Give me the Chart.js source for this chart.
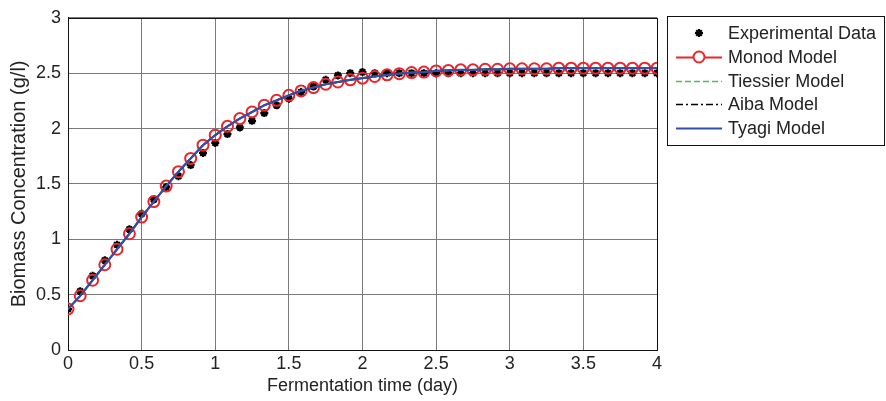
<!DOCTYPE html>
<html>
<head>
<meta charset="utf-8">
<script src="https://cdn.jsdelivr.net/npm/chart.js@4.4.1/dist/chart.umd.min.js"></script>
<style>
html,body{margin:0;padding:0;background:#fff;}
#wrap{width:886px;height:401px;position:relative;}
</style>
</head>
<body>
<div id="wrap"><canvas id="c" width="886" height="401"></canvas></div>
<script>
// ---- data ----
const timeDays = [0, 0.083, 0.167, 0.25, 0.333, 0.417, 0.5, 0.583, 0.667, 0.75, 0.833, 0.917,
  1, 1.083, 1.167, 1.25, 1.333, 1.417, 1.5, 1.583, 1.667, 1.75, 1.833, 1.917,
  2, 2.083, 2.167, 2.25, 2.333, 2.417, 2.5, 2.583, 2.667, 2.75, 2.833, 2.917,
  3, 3.083, 3.167, 3.25, 3.333, 3.417, 3.5, 3.583, 3.667, 3.75, 3.833, 3.917, 4];

const experimental = [0.37, 0.53, 0.67, 0.81, 0.95, 1.09, 1.23, 1.36, 1.47, 1.57, 1.67, 1.78,
  1.87, 1.95, 2.01, 2.07, 2.14, 2.21, 2.27, 2.33, 2.38, 2.44, 2.48, 2.50,
  2.51, 2.50, 2.50, 2.50, 2.50, 2.50, 2.50, 2.50, 2.50, 2.50, 2.50, 2.50,
  2.50, 2.50, 2.50, 2.50, 2.50, 2.50, 2.50, 2.50, 2.50, 2.50, 2.50, 2.50, 2.50];

const monod = [0.37, 0.49, 0.63, 0.77, 0.91, 1.05, 1.20, 1.34, 1.48, 1.61, 1.73, 1.85,
  1.94, 2.02, 2.09, 2.15, 2.21, 2.255, 2.30, 2.34, 2.37, 2.40, 2.42, 2.44,
  2.455, 2.47, 2.485, 2.495, 2.505, 2.51, 2.52, 2.525, 2.53, 2.53, 2.535, 2.535,
  2.54, 2.54, 2.54, 2.54, 2.545, 2.545, 2.545, 2.545, 2.545, 2.545, 2.545, 2.545, 2.545];

const tiessier = [0.37, 0.49, 0.63, 0.77, 0.91, 1.05, 1.20, 1.34, 1.48, 1.61, 1.73, 1.85,
  1.94, 2.02, 2.09, 2.15, 2.21, 2.255, 2.30, 2.34, 2.37, 2.40, 2.42, 2.44,
  2.455, 2.47, 2.485, 2.495, 2.505, 2.51, 2.52, 2.525, 2.53, 2.53, 2.535, 2.535,
  2.54, 2.54, 2.54, 2.54, 2.545, 2.545, 2.545, 2.545, 2.545, 2.545, 2.545, 2.545, 2.545];

const aiba = [0.37, 0.49, 0.63, 0.77, 0.91, 1.05, 1.20, 1.34, 1.48, 1.61, 1.73, 1.85,
  1.94, 2.02, 2.09, 2.15, 2.21, 2.255, 2.30, 2.34, 2.37, 2.40, 2.42, 2.44,
  2.455, 2.47, 2.485, 2.495, 2.505, 2.51, 2.52, 2.525, 2.53, 2.53, 2.535, 2.535,
  2.54, 2.54, 2.54, 2.54, 2.545, 2.545, 2.545, 2.545, 2.545, 2.545, 2.545, 2.545, 2.545];

const tyagi = [0.37, 0.49, 0.63, 0.77, 0.91, 1.05, 1.20, 1.34, 1.48, 1.61, 1.73, 1.85,
  1.94, 2.02, 2.09, 2.15, 2.21, 2.255, 2.30, 2.34, 2.37, 2.40, 2.42, 2.44,
  2.455, 2.47, 2.485, 2.495, 2.505, 2.51, 2.52, 2.525, 2.53, 2.53, 2.535, 2.535,
  2.54, 2.54, 2.54, 2.54, 2.545, 2.545, 2.545, 2.545, 2.545, 2.545, 2.545, 2.545, 2.545];

const seriesNames = ['Experimental Data', 'Monod Model', 'Tiessier Model', 'Aiba Model', 'Tyagi Model'];
const xTitle = 'Fermentation time (day)';
const yTitle = 'Biomass Concentration (g/l)';

// ---- styles ----
const FONT = "'Liberation Sans', Arial, Helvetica, sans-serif";
const TXT = '#222222';
const RED = '#e8262b';
const GREEN = '#4fbf4a';
const BLUE = '#2f4fa8';

function pts(vals){ return timeDays.map((t,i)=>({x:t, y:vals[i]})); }
function fmt(v){ return String(Number(Number(v).toFixed(2))); }

const legendStyles = [
  {color:'#000', dash:[], line:false, marker:'star'},
  {color:RED, dash:[], line:true, marker:'circle', width:1.8},
  {color:GREEN, dash:[6,3], line:true, marker:null, width:1.6},
  {color:'#000', dash:[7,3,2,3], line:true, marker:null, width:1.6},
  {color:BLUE, dash:[], line:true, marker:null, width:2.2}
];

const frameAndLegend = {
  id:'frameAndLegend',
  beforeDatasetsDraw(chart){
    const a = chart.chartArea, ctx = chart.ctx;
    ctx.save();
    ctx.strokeStyle = '#111';
    ctx.lineWidth = 1;
    ctx.strokeRect(Math.round(a.left)+0.5, Math.round(a.top)+0.5, Math.round(a.right-a.left), Math.round(a.bottom-a.top));
    ctx.restore();
  },
  afterDraw(chart){
    const ctx = chart.ctx;
    const bx = 667, by = 16, bw = 217, bh = 129;
    ctx.save();
    ctx.fillStyle = '#fff';
    ctx.fillRect(bx, by, bw, bh);
    ctx.strokeStyle = '#111';
    ctx.lineWidth = 1;
    ctx.strokeRect(bx+0.5, by+0.5, bw, bh);
    const rows = [33, 57, 81, 104, 128];
    ctx.font = '18px ' + FONT;
    ctx.textBaseline = 'middle';
    ctx.textAlign = 'left';
    seriesNames.forEach((name, i) => {
      const s = legendStyles[i], y = rows[i];
      if (s.line) {
        ctx.beginPath();
        ctx.setLineDash(s.dash);
        ctx.strokeStyle = s.color;
        ctx.lineWidth = s.width;
        ctx.moveTo(676, y + 0.5);
        ctx.lineTo(722, y + 0.5);
        ctx.stroke();
        ctx.setLineDash([]);
      }
      if (s.marker) {
        const opts = s.marker === 'star'
          ? {pointStyle:'star', radius:4, borderWidth:2.2, rotation:0}
          : {pointStyle:'circle', radius:5.5, borderWidth:2, rotation:0};
        ctx.strokeStyle = s.color;
        ctx.fillStyle = s.marker === 'star' ? '#000' : '#fff';
        ctx.lineWidth = opts.borderWidth;
        Chart.helpers.drawPoint(ctx, opts, 699, y);
      }
      ctx.fillStyle = TXT;
      ctx.fillText(name, 728, y + 1);
    });
    ctx.restore();
  }
};

const tickFont = {family: FONT, size: 18};

new Chart(document.getElementById('c'), {
  type: 'line',
  data: {
    datasets: [
      {label: seriesNames[0], data: pts(experimental), showLine:false, order:5,
       pointStyle:'star', pointRadius:4, pointBorderWidth:2.2, borderColor:'#000', backgroundColor:'#000'},
      {label: seriesNames[1], data: pts(monod), order:4, borderColor:RED, borderWidth:1.8,
       pointStyle:'circle', pointRadius:5.5, pointBorderWidth:2, pointBackgroundColor:'rgba(255,255,255,0)', pointBorderColor:RED, tension:0},
      {label: seriesNames[2], data: pts(tiessier), order:3, borderColor:GREEN, borderWidth:1.6, borderDash:[6,3], pointRadius:0, tension:0},
      {label: seriesNames[3], data: pts(aiba), order:2, borderColor:'#000', borderWidth:1.6, borderDash:[7,3,2,3], pointRadius:0, tension:0},
      {label: seriesNames[4], data: pts(tyagi), order:1, borderColor:BLUE, borderWidth:2.2, pointRadius:0, tension:0}
    ]
  },
  options: {
    responsive:false, animation:false, devicePixelRatio:1,
    layout:{padding:{top:16, right:229, left:0, bottom:0}},
    plugins:{legend:{display:false}, tooltip:{enabled:false}},
    scales:{
      x:{type:'linear', min:0, max:4,
        ticks:{stepSize:0.5, font:tickFont, color:TXT, padding:3, maxRotation:0, callback:fmt},
        grid:{color:'#7a7a7a', lineWidth:1, drawTicks:false},
        border:{display:true, color:'#111'},
        title:{display:true, text:xTitle, font:tickFont, color:TXT, padding:{top:0, bottom:4}},
        afterFit(s){ s.height = 51; }
      },
      y:{min:0, max:3,
        ticks:{stepSize:0.5, font:tickFont, color:TXT, padding:7, callback:fmt},
        grid:{color:'#7a7a7a', lineWidth:1, drawTicks:false},
        border:{display:true, color:'#111'},
        title:{display:true, text:yTitle, font:{family:FONT, size:20}, color:TXT, padding:{top:7, bottom:0}},
        afterFit(s){ s.width = 68; }
      }
    }
  },
  plugins:[frameAndLegend]
});
</script>
</body>
</html>
